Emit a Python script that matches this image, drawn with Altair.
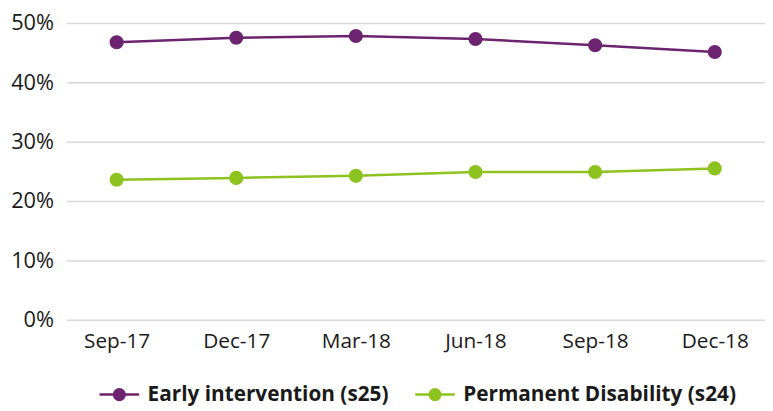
import altair as alt
import pandas as pd

quarters = ["Sep-17", "Dec-17", "Mar-18", "Jun-18", "Sep-18", "Dec-18"]
early = [46.75, 47.5, 47.8, 47.3, 46.25, 45.1]
permanent = [23.6, 23.9, 24.25, 24.9, 24.9, 25.5]
series = ["Early intervention (s25)", "Permanent Disability (s24)"]
colors = ["#6C2470", "#8DC21F"]

rows = []
for q, v in zip(quarters, early):
    rows.append({"quarter": q, "series": series[0], "value": v / 100})
for q, v in zip(quarters, permanent):
    rows.append({"quarter": q, "series": series[1], "value": v / 100})
df = pd.DataFrame(rows)

sym = "M-1,0L-0.27,0M0.27,0L1,0M-0.27,0A0.27,0.27,0,1,1,0.27,0A0.27,0.27,0,1,1,-0.27,0Z"

legend = alt.Legend(
    title=None, orient="none", direction="horizontal", legendX=32, legendY=354,
    padding=0, labelLimit=0,
    symbolType=sym, symbolSize=1600, symbolStrokeWidth=2.5,
    labelFont="Open Sans", labelFontSize=21, labelFontWeight="bold",
    labelColor="#1a1a1a", columnPadding=21, labelOffset=7,
)
scale = alt.Scale(domain=series, range=colors)

x = alt.X("quarter:N", sort=quarters, title=None,
          scale=alt.Scale(type="point", padding=0.42),
          axis=alt.Axis(labelAngle=0, labelFont="Open Sans", labelFontSize=21,
                        labelColor="#1a1a1a", ticks=False, domain=False, grid=False,
                        labelPadding=11))
y = alt.Y("value:Q", title=None,
          scale=alt.Scale(domain=[0, 0.5]),
          axis=alt.Axis(format=".0%", values=[0, 0.1, 0.2, 0.3, 0.4, 0.5],
                        labelFont="Open Sans", labelFontSize=22, labelColor="#1a1a1a",
                        ticks=False, domain=False, gridColor="#d9d9d9", gridWidth=1.5,
                        labelPadding=13))

base = alt.Chart(df)
lines = base.mark_line(strokeWidth=2.5).encode(
    x=x, y=y,
    stroke=alt.Stroke("series:N", scale=scale, legend=legend, sort=series),
)
points = base.mark_point(filled=True, size=150, opacity=1).encode(
    x=x, y=y,
    fill=alt.Fill("series:N", scale=scale, legend=legend, sort=series),
    stroke=alt.Stroke("series:N", scale=scale, legend=legend, sort=series),
)

chart = alt.layer(lines, points).properties(
    width=706, height=300,
    padding={"top": 2, "left": 2, "right": 0, "bottom": 0},
).configure_view(stroke=None)

chart.save("out.html", embed_options={"renderer": "svg", "actions": False})
